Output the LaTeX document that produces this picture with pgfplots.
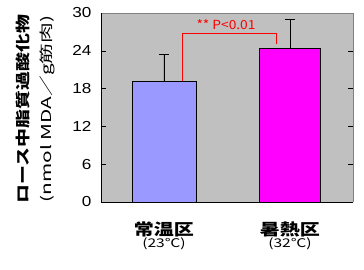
\documentclass[border=0pt]{standalone}
\usepackage{fontspec}
\setmainfont{Liberation Sans}
\newfontfamily\cjk{Noto Sans CJK JP}
\usepackage{graphicx}
\usepackage{pgfplots}
\pgfplotsset{compat=1.18}
\definecolor{plotbg}{HTML}{C0C0C0}
\definecolor{barA}{HTML}{9999FF}
\definecolor{barB}{HTML}{FF00FF}
\begin{document}
\begin{tikzpicture}
\begin{axis}[
  scale only axis, width=252pt, height=189pt,
  xmin=-0.5, xmax=1.5, ymin=0, ymax=30,
  axis background/.style={fill=plotbg},
  axis line style={draw=none},
  ytick={0,6,12,18,24,30},
  xtick={0,1},
  xticklabels={{\scalebox{1.25}[1]{\cjk\bfseries\fontsize{16}{17}\selectfont 常温区}}\\{\scalebox{1.3}[1]{\cjk\fontsize{12}{12}\selectfont (23℃)}},{\scalebox{1.25}[1]{\cjk\bfseries\fontsize{16}{17}\selectfont 暑熱区}}\\{\scalebox{1.3}[1]{\cjk\fontsize{12}{12}\selectfont (32℃)}}},
  xticklabel style={align=center, yshift=-16pt},
  major x tick style={draw=none},
  tick align=inside, major tick length=5pt,
  major y tick style={black, line width=0.6pt},
  yticklabel style={font=\fontsize{14.5}{16}\selectfont, xshift=-6pt},
  yticklabel={\scalebox{1.18}[1]{\pgfmathprintnumber{\tick}}},
  /pgf/number format/assume math mode=true,
  clip=false,
]
\draw[gray, line width=0.8pt] (rel axis cs:0,1) -- (rel axis cs:1,1) -- (rel axis cs:1,0);
\addplot[ybar, bar width=64pt, bar shift=0pt, fill=barA, draw=black, line width=0.8pt,
  error bars/.cd, y dir=plus, y explicit, error bar style={black, line width=0.8pt},
  error mark options={rotate=90, mark size=5pt, black, line width=0.8pt}]
  coordinates {(0,19.2) +- (0,4.3)};
\addplot[ybar, bar width=61pt, bar shift=0pt, fill=barB, draw=black, line width=0.8pt,
  error bars/.cd, y dir=plus, y explicit, error bar style={black, line width=0.8pt},
  error mark options={rotate=90, mark size=5pt, black, line width=0.8pt}]
  coordinates {(1,24.4) +- (0,4.6)};
\draw[black, line width=0.8pt] (rel axis cs:0,1) -- (rel axis cs:0,0) -- (rel axis cs:1,0);
\draw[red, line width=0.8pt] (axis cs:0.143,19.2) |- (axis cs:0.889,26.7) -- (axis cs:0.889,25.1);
\node[red] at (axis cs:0.492,28.1) {\scalebox{1.1}[1]{\cjk\fontsize{12.5}{14}\selectfont ** P<0.01}};
\node[rotate=90] at (rel axis cs:-0.31,0.492) {\resizebox*{188pt}{14pt}{\cjk\bfseries\fontsize{15}{17}\selectfont ロース中脂質過酸化物}};
\node[rotate=90] at (rel axis cs:-0.212,0.492) {\resizebox*{187pt}{15pt}{\cjk\fontsize{13.5}{15}\selectfont (nmol MDA／g筋肉)}};
\end{axis}
\pgfresetboundingbox
\path[use as bounding box] (-101pt,-67pt) rectangle (263pt,202pt);
\end{tikzpicture}
\end{document}
